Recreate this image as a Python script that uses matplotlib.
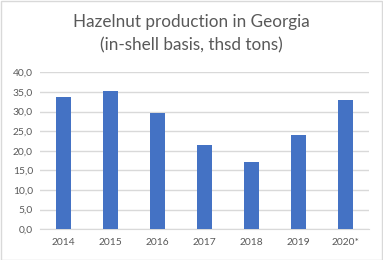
import matplotlib
matplotlib.use("Agg")
import matplotlib.pyplot as plt
from matplotlib.patches import Rectangle

years = ["2014", "2015", "2016", "2017", "2018", "2019", "2020*"]
production = [33.7, 35.2, 29.7, 21.5, 17.1, 24.0, 32.9]
yticks = [0, 5, 10, 15, 20, 25, 30, 35, 40]
ytick_labels = ["0,0", "5,0", "10,0", "15,0", "20,0", "25,0", "30,0", "35,0", "40,0"]

plt.rcParams['font.family'] = ['Lato', 'DejaVu Sans']
fig = plt.figure(figsize=(3.83, 2.60), dpi=100)
ax = fig.add_axes([40/383, 1 - 229.3/260, (368.7-40)/383, (229.3-72.3)/260])

x = list(range(len(years)))
ax.bar(x, production, width=0.32, color="#4472C4", zorder=3)
ax.set_xlim(-0.5, len(years) - 0.5)
ax.set_ylim(0, 40)
ax.set_yticks(yticks)
ax.set_yticklabels(ytick_labels)
ax.set_xticks(x)
ax.set_xticklabels(years)
ax.grid(axis="y", color="#d9d9d9", linewidth=1, zorder=0)
for s in ["top", "right", "left"]:
    ax.spines[s].set_visible(False)
ax.spines["bottom"].set_color("#d9d9d9")
ax.tick_params(axis="both", length=0, labelsize=7.4, colors="#595959")
ax.tick_params(axis="x", pad=6)
ax.tick_params(axis="y", pad=5)

fig.text(0.5, 1 - 22/260, "Hazelnut production in Georgia", ha="center", va="center",
         fontsize=12.3, color="#595959")
fig.text(0.5, 1 - 45/260, "(in-shell basis, thsd tons)", ha="center", va="center",
         fontsize=12.3, color="#595959")

fig.patches.append(Rectangle((0.5/383, 0.5/260), 1 - 1.5/383, 1 - 1.5/260, transform=fig.transFigure,
                             fill=False, edgecolor="#d9d9d9", linewidth=1))
fig.savefig("out.png", dpi=100)
